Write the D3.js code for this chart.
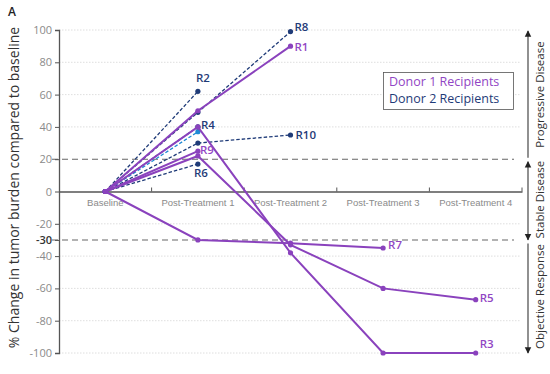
<!DOCTYPE html>
<html>
<head>
<meta charset="utf-8">
<script src="https://cdn.jsdelivr.net/npm/d3@7"></script>
<style>
  body { margin: 0; background: #fff; }
  svg { font-family: "Open Sans", "Noto Sans", sans-serif; }
</style>
</head>
<body>
<svg id="chart" width="550" height="374"></svg>
<script>
// categories on the x axis
const timepoints = ["Baseline", "Post-Treatment 1", "Post-Treatment 2", "Post-Treatment 3", "Post-Treatment 4"];
const yTicks = [100, 80, 60, 40, 20, 0, -20, -30, -40, -60, -80, -100];
const gridTicks = [100, 80, 60, 40, -20, -40, -60, -80, -100];

// donor 1 recipients (solid purple)
const r1 = [0, 50, 90];
const r3 = [0, 40, -38, -100, -100];
const r5 = [0, 22, -33, -60, -67];
const r7 = [0, -30, -32, -35];
const r9 = [0, 25];
// donor 2 recipients (dashed navy)
const r2 = [0, 62];
const r4 = [0, 40];
const r6 = [0, 17];
const r8 = [0, 49, 99];
const r10 = [0, 30, 35];
const rX = [0, 37]; // unlabelled, light blue

const purple = "#8a42bd", navy = "#1f3b78", lightBlue = "#1f8ad4";

const series = [
  { vals: r2, color: navy, dash: true, label: "R2", lx: -2, ly: -9 },
  { vals: r8, color: navy, dash: true, label: "R8", lx: 4, ly: -1 },
  { vals: r10, color: navy, dash: true, label: "R10", lx: 5, ly: 4 },
  { vals: r6, color: navy, dash: true, label: "R6", lx: -4, ly: 13 },
  { vals: rX, color: lightBlue, dash: true, label: null },
  { vals: r4, color: navy, dash: true, label: "R4", lx: 3, ly: 2 },
  { vals: r1, color: purple, dash: false, label: "R1", lx: 4, ly: 5 },
  { vals: r3, color: purple, dash: false, label: "R3", lx: 4, ly: -5 },
  { vals: r5, color: purple, dash: false, label: "R5", lx: 4, ly: 2 },
  { vals: r7, color: purple, dash: false, label: "R7", lx: 5, ly: 1 },
  { vals: r9, color: purple, dash: false, label: "R9", lx: 2, ly: 3 }
];

const svg = d3.select("#chart");

const x = d3.scaleBand().domain(timepoints).range([59, 522]).padding(0);
const y = d3.scaleLinear().domain([-100, 100]).range([353, 30]);
const cx = i => x(timepoints[i]) + x.bandwidth() / 2;

// gridlines
svg.append("g").selectAll("line").data(gridTicks).join("line")
  .attr("x1", 59).attr("x2", 521)
  .attr("y1", d => y(d)).attr("y2", d => y(d))
  .attr("stroke", "#d6d6d6").attr("stroke-width", 0.8)
  .attr("stroke-dasharray", "1.5,1.5");

// threshold lines
svg.append("g").selectAll("line").data([20, -30]).join("line")
  .attr("x1", 52).attr("x2", 514)
  .attr("y1", d => y(d)).attr("y2", d => y(d))
  .attr("stroke", "#666").attr("stroke-width", 1.1)
  .attr("stroke-dasharray", "6,4");

// y axis
const yAxis = svg.append("g").attr("transform", "translate(59,0)")
  .call(d3.axisLeft(y).tickValues(yTicks).tickSize(4).tickFormat(d => d));
yAxis.select(".domain").attr("stroke", "#555").attr("stroke-width", 1.3);
yAxis.selectAll(".tick line").attr("stroke", "#555");
yAxis.selectAll(".tick text")
  .attr("font-size", 11)
  .attr("font-family", "Open Sans, sans-serif")
  .attr("fill", d => d === -30 ? "#333" : "#8a8a8a")
  .attr("font-weight", d => d === -30 ? 600 : "normal")
  .attr("x", -7);

// x axis along zero
const xAxis = svg.append("g").attr("transform", `translate(0,${y(0)})`)
  .call(d3.axisBottom(x).tickSize(0).tickPadding(8));
xAxis.select(".domain").attr("stroke", "#555").attr("stroke-width", 1.3);
xAxis.selectAll(".tick text")
  .attr("font-size", 9.5)
  .attr("fill", "#8a8a8a");
svg.append("g").selectAll("line").data(timepoints.slice(1).concat(["end"])).join("line")
  .attr("x1", (d, i) => 59 + x.bandwidth() * (i + 1))
  .attr("x2", (d, i) => 59 + x.bandwidth() * (i + 1))
  .attr("y1", y(0)).attr("y2", y(0) - 4)
  .attr("stroke", "#555");

// series lines
const line = d3.line().x((d, i) => cx(i)).y(d => y(d));
const g = svg.append("g");
series.forEach(s => {
  g.append("path")
    .datum(s.vals)
    .attr("d", line)
    .attr("fill", "none")
    .attr("stroke", s.color)
    .attr("stroke-width", s.dash ? 1.3 : 2)
    .attr("stroke-dasharray", s.dash ? "3.5,2" : null);
  g.selectAll(null).data(s.vals).join("circle")
    .attr("cx", (d, i) => cx(i))
    .attr("cy", d => y(d))
    .attr("r", 2.6)
    .attr("fill", s.color);
});

// labels at the last point
series.filter(s => s.label).forEach(s => {
  const i = s.vals.length - 1;
  svg.append("text")
    .attr("x", cx(i) + s.lx)
    .attr("y", y(s.vals[i]) + s.ly)
    .attr("font-size", 11.5)
    .attr("font-weight", 600)
    .attr("fill", s.color === purple ? "#9146c4" : "#1f3b78")
    .text(s.label);
});

// legend
svg.append("rect")
  .attr("x", 383.5).attr("y", 72.5).attr("width", 130).attr("height", 37)
  .attr("fill", "#fff").attr("stroke", "#555").attr("stroke-width", 0.8);
svg.append("text").attr("x", 389).attr("y", 86)
  .attr("font-size", 12.5).attr("font-weight", 500).attr("fill", "#9146c4").text("Donor 1 Recipients");
svg.append("text").attr("x", 389).attr("y", 103)
  .attr("font-size", 12.5).attr("font-weight", 500).attr("fill", "#1f3b78").text("Donor 2 Recipients");

// response zones on the right
svg.append("defs").append("marker")
  .attr("id", "arr").attr("viewBox", "0 0 10 10")
  .attr("refX", 9).attr("refY", 5)
  .attr("markerWidth", 5).attr("markerHeight", 6)
  .attr("orient", "auto-start-reverse")
  .append("path").attr("d", "M0,0L10,5L0,10z").attr("fill", "#222");

const zones = [
  { name: "Progressive Disease", top: 100, bottom: 20, a0: true, a1: false },
  { name: "Stable Disease", top: 20, bottom: -30, a0: true, a1: true },
  { name: "Objective Response", top: -30, bottom: -100, a0: false, a1: true }
];
zones.forEach(z => {
  const y0 = y(z.top) + (z.a0 ? 1 : 2), y1 = y(z.bottom) - (z.a1 ? 0 : 1.5);
  svg.append("line")
    .attr("x1", 528).attr("x2", 528)
    .attr("y1", z.top === 100 ? y0 : y0 + 1.5).attr("y2", y1)
    .attr("stroke", "#555").attr("stroke-width", 1.3)
    .attr("marker-start", z.a0 ? "url(#arr)" : null)
    .attr("marker-end", z.a1 ? "url(#arr)" : null);
  const mid = (y(z.top) + y(z.bottom)) / 2;
  svg.append("text")
    .attr("transform", `translate(544,${mid}) rotate(-90)`)
    .attr("text-anchor", "middle")
    .attr("font-size", 11.5)
    .attr("fill", "#333")
    .text(z.name);
});

// axis title and panel letter
svg.append("text")
  .attr("transform", `translate(19,${y(0) - 4}) rotate(-90)`)
  .attr("text-anchor", "middle")
  .attr("font-size", 14)
  .attr("fill", "#333")
  .text("% Change in tumor burden compared to baseline");
svg.append("text").attr("x", 8).attr("y", 16)
  .attr("font-size", 12).attr("font-weight", 600).attr("fill", "#222").text("A");
</script>
</body>
</html>
